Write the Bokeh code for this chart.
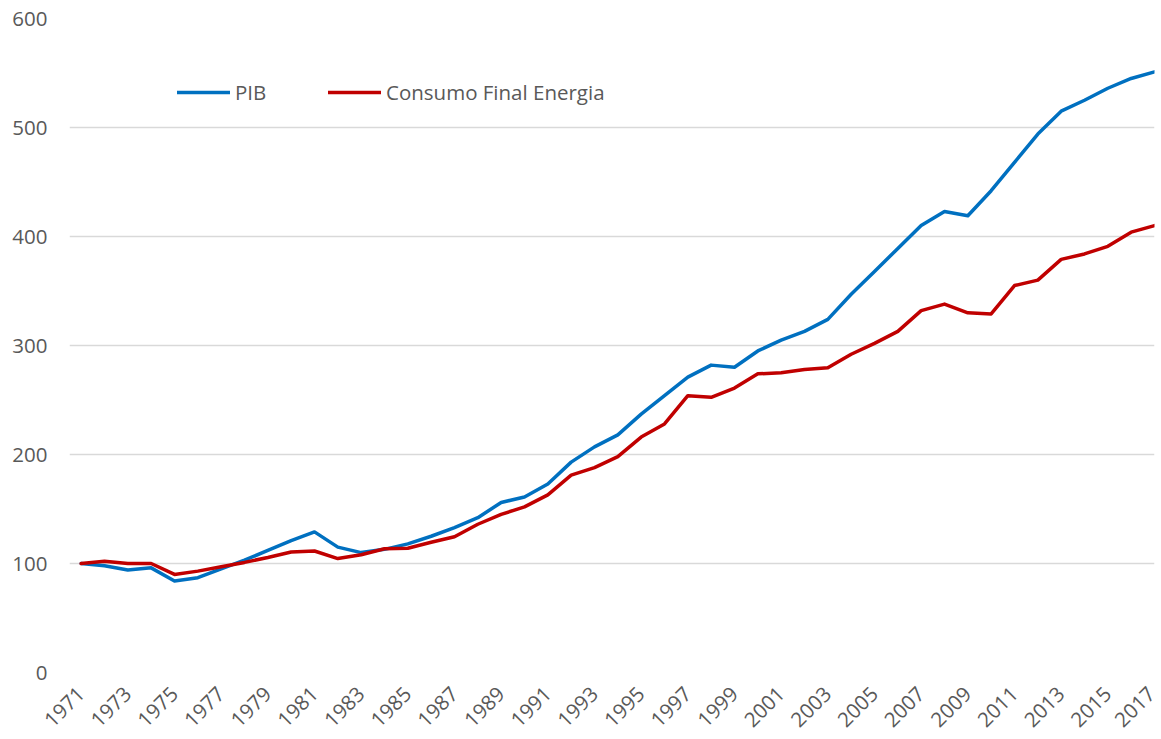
from bokeh.plotting import figure
from bokeh.models import Legend, LegendItem, FixedTicker, Range1d
from bokeh.embed import file_html
from bokeh.resources import INLINE
import math

years = list(range(1971, 2018))
pib = [100, 98, 94, 96, 84, 87, 95, 103, 112, 121, 129, 115, 110, 113, 118, 125,
       133, 142, 156, 161, 173, 193, 207, 218, 237, 254, 271, 282, 280, 295, 305,
       313, 324, 347, 368, 389, 410, 423, 419, 442, 468, 494, 515, 525, 536, 545, 551]
energia = [100, 102, 100, 100, 90, 93, 97, 101, 105.5, 110.5, 111.5, 104.5, 108,
           113.5, 114, 119.5, 124.5, 136, 145, 152, 163, 181, 188, 198, 216, 228,
           254, 252.5, 261, 274, 275, 278, 279.5, 292, 302, 313, 332, 338, 330, 329,
           355, 360, 379, 384, 391, 404, 410]
x_ticks = years[::2]
y_ticks = [0, 100, 200, 300, 400, 500, 600]
series_names = ["PIB", "Consumo Final Energia"]

FONT = "Open Sans"
TXT = "#595959"

p = figure(frame_width=1085, frame_height=654, output_backend="svg",
           toolbar_location=None, x_range=Range1d(1970.5, 2017.0),
           y_range=Range1d(0, 600), min_border_left=69, min_border_right=2,
           min_border_top=18, min_border_bottom=10)
p.outline_line_color = None
p.background_fill_color = "white"
p.border_fill_color = "white"

p.xgrid.grid_line_color = None
p.ygrid.grid_line_color = "#d9d9d9"
p.ygrid.grid_line_width = 1.4
p.ygrid.ticker = FixedTicker(ticks=y_ticks)

for ax in (p.xaxis[0], p.yaxis[0]):
    ax.axis_line_color = None
    ax.major_tick_line_color = None
    ax.minor_tick_line_color = None
    ax.major_tick_out = 0
    ax.major_tick_in = 0
    ax.major_label_text_font = FONT
    ax.major_label_text_font_size = "20.5px"
    ax.major_label_text_color = TXT

p.xaxis.ticker = FixedTicker(ticks=x_ticks)
p.xaxis.major_label_orientation = math.pi / 4
p.xaxis.major_label_standoff = 18
p.yaxis.ticker = FixedTicker(ticks=y_ticks)
p.yaxis.major_label_standoff = 22

r1 = p.line(years, pib, line_color="#0070C0", line_width=3.5,
            line_join="round", line_cap="round")
r2 = p.line(years, energia, line_color="#C00000", line_width=3.5,
            line_join="round", line_cap="round")

def make_legend(label, renderer, x):
    lg = Legend(items=[LegendItem(label=label, renderers=[renderer])],
                location=(x, 566), orientation="horizontal",
                border_line_color=None, background_fill_alpha=0,
                padding=0, margin=0, spacing=0,
                glyph_width=53, glyph_height=20, label_standoff=5,
                label_text_font=FONT, label_text_font_size="20.5px",
                label_text_color=TXT)
    p.add_layout(lg, "center")

make_legend(series_names[0], r1, 177 - 69)
make_legend(series_names[1], r2, 328 - 69)

open("out.html", "w").write(file_html(p, INLINE))
